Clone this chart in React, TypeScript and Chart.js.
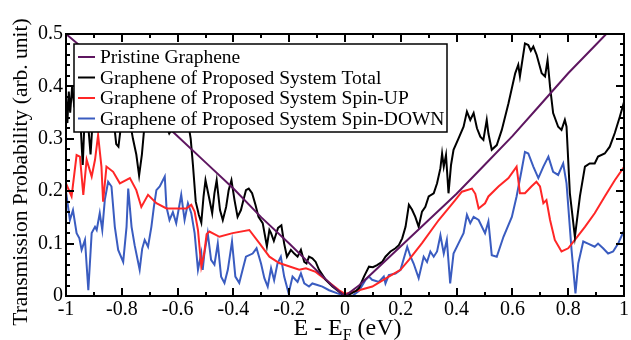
import React, { useEffect, useRef } from "react";
import { Chart, registerables } from "chart.js";
Chart.register(...registerables);

// ---- data ----
const seriesNames = [
  "Pristine Graphene",
  "Graphene of Proposed System Total",
  "Graphene of Proposed System Spin-UP",
  "Graphene of Proposed System Spin-DOWN",
];
const seriesColors = ["#5e1660", "#000000", "#ff2626", "#3a5cc0"];

const pristineE = [-1, -0.9, -0.8, -0.7, -0.6, -0.5, -0.4, -0.3, -0.2, -0.1, -0.05, -0.02, 0, 0.02, 0.05, 0.1, 0.2, 0.3, 0.4, 0.5, 0.6, 0.7, 0.8, 0.9, 1.0];
const pristineT = [0.5, 0.455, 0.405, 0.355, 0.305, 0.255, 0.205, 0.15, 0.1, 0.048, 0.022, 0.008, 0, 0.008, 0.02, 0.045, 0.095, 0.145, 0.195, 0.25, 0.305, 0.365, 0.425, 0.48, 0.535];

const totalE = [-1, -0.995, -0.99, -0.985, -0.978, -0.97, -0.962, -0.955, -0.948, -0.94, -0.934, -0.926, -0.918, -0.912, -0.905, -0.895, -0.885, -0.875, -0.862, -0.85, -0.84, -0.828, -0.82, -0.812, -0.804, -0.795, -0.785, -0.77, -0.76, -0.748, -0.738, -0.728, -0.718, -0.705, -0.69, -0.675, -0.66, -0.645, -0.63, -0.618, -0.605, -0.59, -0.575, -0.562, -0.553, -0.545, -0.535, -0.524, -0.515, -0.507, -0.5, -0.488, -0.476, -0.468, -0.46, -0.448, -0.438, -0.426, -0.417, -0.407, -0.396, -0.385, -0.373, -0.364, -0.355, -0.345, -0.333, -0.321, -0.31, -0.295, -0.28, -0.271, -0.265, -0.255, -0.24, -0.228, -0.218, -0.208, -0.194, -0.182, -0.17, -0.158, -0.146, -0.138, -0.129, -0.117, -0.105, -0.093, -0.069, -0.045, -0.021, 0, 0.02, 0.04, 0.05, 0.068, 0.086, 0.1, 0.115, 0.133, 0.145, 0.163, 0.181, 0.193, 0.205, 0.217, 0.229, 0.24, 0.252, 0.264, 0.276, 0.288, 0.3, 0.318, 0.33, 0.342, 0.348, 0.354, 0.362, 0.371, 0.38, 0.389, 0.407, 0.425, 0.437, 0.449, 0.461, 0.473, 0.485, 0.496, 0.508, 0.514, 0.526, 0.544, 0.562, 0.586, 0.61, 0.621, 0.627, 0.645, 0.657, 0.666, 0.675, 0.687, 0.705, 0.717, 0.726, 0.735, 0.746, 0.764, 0.776, 0.788, 0.794, 0.806, 0.824, 0.842, 0.86, 0.877, 0.895, 0.907, 0.931, 0.949, 0.967, 0.985, 1.0];
const totalT = [0.38, 0.33, 0.39, 0.35, 0.4, 0.36, 0.42, 0.38, 0.33, 0.25, 0.33, 0.36, 0.31, 0.27, 0.33, 0.37, 0.34, 0.36, 0.33, 0.35, 0.38, 0.33, 0.29, 0.285, 0.32, 0.36, 0.34, 0.33, 0.3, 0.27, 0.23, 0.27, 0.33, 0.36, 0.34, 0.37, 0.35, 0.33, 0.31, 0.32, 0.34, 0.36, 0.34, 0.33, 0.3, 0.25, 0.18, 0.155, 0.14, 0.19, 0.221, 0.19, 0.158, 0.196, 0.221, 0.164, 0.145, 0.17, 0.202, 0.221, 0.183, 0.151, 0.164, 0.183, 0.202, 0.205, 0.196, 0.174, 0.151, 0.139, 0.095, 0.126, 0.12, 0.105, 0.13, 0.135, 0.1, 0.075, 0.088, 0.081, 0.075, 0.088, 0.065, 0.062, 0.075, 0.072, 0.065, 0.05, 0.031, 0.018, 0.008, 0, 0.004, 0.01, 0.015, 0.037, 0.056, 0.055, 0.059, 0.065, 0.075, 0.085, 0.091, 0.097, 0.11, 0.132, 0.174, 0.165, 0.151, 0.132, 0.161, 0.17, 0.19, 0.196, 0.215, 0.244, 0.272, 0.247, 0.269, 0.196, 0.25, 0.279, 0.301, 0.323, 0.352, 0.336, 0.349, 0.32, 0.304, 0.298, 0.336, 0.31, 0.279, 0.288, 0.317, 0.368, 0.425, 0.441, 0.419, 0.482, 0.479, 0.468, 0.476, 0.46, 0.425, 0.419, 0.45, 0.399, 0.349, 0.323, 0.317, 0.336, 0.323, 0.196, 0.113, 0.19, 0.247, 0.253, 0.253, 0.266, 0.272, 0.285, 0.311, 0.342, 0.37];

const upE = [-1, -0.98, -0.962, -0.95, -0.938, -0.926, -0.908, -0.896, -0.885, -0.873, -0.867, -0.855, -0.831, -0.807, -0.771, -0.748, -0.73, -0.706, -0.676, -0.64, -0.569, -0.551, -0.539, -0.527, -0.515, -0.505, -0.496, -0.486, -0.45, -0.403, -0.343, -0.307, -0.271, -0.236, -0.164, -0.14, -0.105, -0.069, -0.021, 0, 0.05, 0.098, 0.157, 0.199, 0.229, 0.276, 0.336, 0.395, 0.419, 0.455, 0.467, 0.479, 0.502, 0.514, 0.55, 0.586, 0.615, 0.627, 0.645, 0.668, 0.686, 0.699, 0.711, 0.722, 0.735, 0.752, 0.776, 0.8, 0.824, 0.86, 0.895, 0.931, 0.967, 1.0];
const upT = [0.215, 0.19, 0.269, 0.266, 0.193, 0.26, 0.228, 0.26, 0.307, 0.247, 0.18, 0.247, 0.237, 0.215, 0.225, 0.202, 0.17, 0.193, 0.177, 0.167, 0.167, 0.174, 0.161, 0.126, 0.056, 0.08, 0.118, 0.123, 0.113, 0.12, 0.126, 0.101, 0.075, 0.063, 0.05, 0.053, 0.046, 0.031, 0.011, 0.004, 0.011, 0.018, 0.037, 0.05, 0.069, 0.101, 0.145, 0.183, 0.199, 0.205, 0.195, 0.167, 0.177, 0.19, 0.209, 0.225, 0.247, 0.196, 0.196, 0.209, 0.218, 0.209, 0.177, 0.183, 0.145, 0.107, 0.085, 0.091, 0.107, 0.132, 0.158, 0.19, 0.221, 0.246];

const downE = [-1, -0.986, -0.975, -0.962, -0.952, -0.944, -0.932, -0.92, -0.908, -0.896, -0.89, -0.879, -0.87, -0.861, -0.849, -0.837, -0.825, -0.813, -0.795, -0.783, -0.777, -0.765, -0.754, -0.736, -0.727, -0.718, -0.706, -0.694, -0.685, -0.676, -0.664, -0.646, -0.64, -0.629, -0.617, -0.605, -0.587, -0.575, -0.563, -0.551, -0.539, -0.527, -0.515, -0.51, -0.504, -0.492, -0.48, -0.468, -0.456, -0.444, -0.432, -0.42, -0.405, -0.393, -0.379, -0.367, -0.355, -0.331, -0.317, -0.301, -0.289, -0.277, -0.265, -0.254, -0.242, -0.23, -0.218, -0.202, -0.188, -0.17, -0.158, -0.146, -0.129, -0.117, -0.099, -0.081, -0.057, -0.027, 0, 0.026, 0.05, 0.074, 0.086, 0.097, 0.121, 0.139, 0.145, 0.157, 0.181, 0.199, 0.223, 0.235, 0.246, 0.264, 0.282, 0.294, 0.306, 0.318, 0.33, 0.342, 0.354, 0.365, 0.377, 0.389, 0.413, 0.425, 0.437, 0.449, 0.461, 0.479, 0.502, 0.514, 0.526, 0.544, 0.568, 0.598, 0.615, 0.633, 0.645, 0.657, 0.675, 0.693, 0.711, 0.729, 0.746, 0.764, 0.782, 0.794, 0.812, 0.826, 0.836, 0.854, 0.871, 0.895, 0.907, 0.925, 0.943, 0.961, 0.979, 1.0];
const downT = [0.199, 0.145, 0.164, 0.12, 0.11, 0.088, 0.107, 0.011, 0.12, 0.132, 0.126, 0.158, 0.126, 0.183, 0.218, 0.209, 0.132, 0.088, 0.065, 0.132, 0.205, 0.132, 0.097, 0.05, 0.09, 0.107, 0.094, 0.132, 0.17, 0.202, 0.209, 0.228, 0.17, 0.145, 0.16, 0.139, 0.193, 0.145, 0.177, 0.158, 0.12, 0.05, 0.082, 0.05, 0.082, 0.12, 0.069, 0.06, 0.1, 0.037, 0.025, 0.05, 0.104, 0.037, 0.025, 0.05, 0.075, 0.081, 0.091, 0.062, 0.034, 0.018, 0.053, 0.03, 0.062, 0.075, 0.037, 0.005, 0.037, 0.027, 0.043, 0.024, 0.018, 0.024, 0.021, 0.018, 0.011, 0.005, 0, 0, 0.01, 0.031, 0.037, 0.031, 0.027, 0.037, 0.024, 0.04, 0.043, 0.05, 0.094, 0.075, 0.062, 0.034, 0.075, 0.065, 0.085, 0.075, 0.085, 0.116, 0.081, 0.107, 0.024, 0.081, 0.107, 0.12, 0.155, 0.139, 0.151, 0.145, 0.12, 0.142, 0.078, 0.075, 0.113, 0.151, 0.19, 0.24, 0.275, 0.272, 0.247, 0.225, 0.247, 0.266, 0.237, 0.231, 0.253, 0.215, 0.088, 0.005, 0.062, 0.104, 0.1, 0.094, 0.1, 0.091, 0.081, 0.085, 0.1, 0.125];

const xTicks = [-1, -0.8, -0.6, -0.4, -0.2, 0, 0.2, 0.4, 0.6, 0.8, 1];
const xTickLabels = ["-1", "-0.8", "-0.6", "-0.4", "-0.2", "0", "0.2", "0.4", "0.6", "0.8", "1"];
const xMinorTicks = [-0.9, -0.7, -0.5, -0.3, -0.1, 0.1, 0.3, 0.5, 0.7, 0.9];
const yTicks = [0, 0.1, 0.2, 0.3, 0.4, 0.5];
const yTickLabels = ["0", "0.1", "0.2", "0.3", "0.4", "0.5"];
const yMinorTicks = [0.02, 0.04, 0.06, 0.08, 0.12, 0.14, 0.16, 0.18, 0.22, 0.24, 0.26, 0.28, 0.32, 0.34, 0.36, 0.38, 0.42, 0.44, 0.46, 0.48];
const xTitle = ["E - E", "F", " (eV)"];
const yTitle = "Transmission Probability (arb. unit)";

const FONT = '"Liberation Serif"';

const decorPlugin = {
  id: "decor",
  afterDatasetsDraw(chart: any) {
    const { ctx, chartArea: a, scales } = chart;
    const xs = scales.x, ys = scales.y;
    ctx.save();
    ctx.strokeStyle = "#000";
    ctx.lineWidth = 2;
    ctx.strokeRect(a.left, a.top, a.right - a.left, a.bottom - a.top);
    ctx.beginPath();
    const xt = (v: number, len: number) => {
      const p = Math.round(xs.getPixelForValue(v));
      ctx.moveTo(p, a.bottom); ctx.lineTo(p, a.bottom - len);
      ctx.moveTo(p, a.top); ctx.lineTo(p, a.top + len);
    };
    const yt = (v: number, len: number) => {
      const p = Math.round(ys.getPixelForValue(v));
      ctx.moveTo(a.left, p); ctx.lineTo(a.left + len, p);
      ctx.moveTo(a.right, p); ctx.lineTo(a.right - len, p);
    };
    xTicks.forEach((v) => xt(v, 8));
    xMinorTicks.forEach((v) => xt(v, 4));
    yTicks.forEach((v) => yt(v, 8));
    yMinorTicks.forEach((v) => yt(v, 4));
    ctx.stroke();

    // legend
    const lx = a.left + 8, ly = a.top + 10, lw = 373, lh = 88;
    ctx.fillStyle = "#fff";
    ctx.fillRect(lx, ly, lw, lh);
    ctx.lineWidth = 1.5;
    ctx.strokeStyle = "#000";
    ctx.strokeRect(lx, ly, lw, lh);
    ctx.font = `19.5px ${FONT}`;
    ctx.textBaseline = "middle";
    ctx.textAlign = "left";
    seriesNames.forEach((name, i) => {
      const yy = ly + 13 + i * 20.5;
      ctx.strokeStyle = seriesColors[i];
      ctx.lineWidth = 2;
      ctx.beginPath();
      ctx.moveTo(lx + 4, yy); ctx.lineTo(lx + 21, yy);
      ctx.stroke();
      ctx.fillStyle = "#000";
      ctx.fillText(name, lx + 26, yy + 1);
    });

    // y title
    ctx.save();
    ctx.translate(21, 172);
    ctx.rotate(-Math.PI / 2);
    ctx.font = `21.5px ${FONT}`;
    ctx.textAlign = "center";
    ctx.textBaseline = "middle";
    ctx.fillStyle = "#000";
    ctx.fillText(yTitle, 0, 0);
    ctx.restore();

    // x title with subscript
    const big = `24px ${FONT}`, small = `16px ${FONT}`;
    ctx.font = big;
    const w1 = ctx.measureText(xTitle[0]).width;
    ctx.font = small;
    const w2 = ctx.measureText(xTitle[1]).width;
    ctx.font = big;
    const w3 = ctx.measureText(xTitle[2]).width;
    const total = w1 + w2 + w3;
    let sx = 347.5 - total / 2;
    const base = 335;
    ctx.textBaseline = "alphabetic";
    ctx.textAlign = "left";
    ctx.fillStyle = "#000";
    ctx.fillText(xTitle[0], sx, base);
    sx += w1;
    ctx.font = small;
    ctx.fillText(xTitle[1], sx, base + 5);
    sx += w2;
    ctx.font = big;
    ctx.fillText(xTitle[2], sx, base);
    ctx.restore();
  },
};

function mk(E: number[], T: number[]) {
  return E.map((x, i) => ({ x, y: T[i] }));
}

export default function App() {
  const ref = useRef<HTMLCanvasElement | null>(null);
  useEffect(() => {
    document.body.style.margin = "0";
    const canvas = ref.current!;
    const chart = new Chart(canvas, {
      type: "line",
      data: {
        datasets: [
          { label: seriesNames[0], data: mk(pristineE, pristineT), borderColor: seriesColors[0] },
          { label: seriesNames[1], data: mk(totalE, totalT), borderColor: seriesColors[1] },
          { label: seriesNames[2], data: mk(upE, upT), borderColor: seriesColors[2] },
          { label: seriesNames[3], data: mk(downE, downT), borderColor: seriesColors[3] },
        ].map((d) => ({ ...d, borderWidth: 2, pointRadius: 0, tension: 0, fill: false })),
      },
      options: {
        animation: false,
        responsive: false,
        events: [],
        layout: { padding: { top: 34, right: 5, left: 0, bottom: 0 } },
        plugins: { legend: { display: false }, tooltip: { enabled: false } },
        scales: {
          x: {
            type: "linear",
            min: -1,
            max: 1,
            afterBuildTicks: (s: any) => { s.ticks = xTicks.map((v) => ({ value: v })); },
            afterFit: (s: any) => { s.height = 44; },
            grid: { display: false, drawTicks: false },
            border: { display: false },
            ticks: {
              padding: 2,
              color: "#000",
              font: { family: FONT, size: 20 },
              maxRotation: 0,
              autoSkip: false,
              callback: (_v: any, i: number) => xTickLabels[i],
            },
          },
          y: {
            type: "linear",
            min: 0,
            max: 0.5,
            afterBuildTicks: (s: any) => { s.ticks = yTicks.map((v) => ({ value: v })); },
            afterFit: (s: any) => { s.width = 66; },
            grid: { display: false, drawTicks: false },
            border: { display: false },
            ticks: {
              padding: 3,
              color: "#000",
              font: { family: FONT, size: 20 },
              autoSkip: false,
              callback: (_v: any, i: number) => yTickLabels[i],
            },
          },
        },
      },
      plugins: [decorPlugin],
    } as any);
    return () => chart.destroy();
  }, []);
  return <canvas ref={ref} width={631} height={340} style={{ display: "block" }} />;
}
